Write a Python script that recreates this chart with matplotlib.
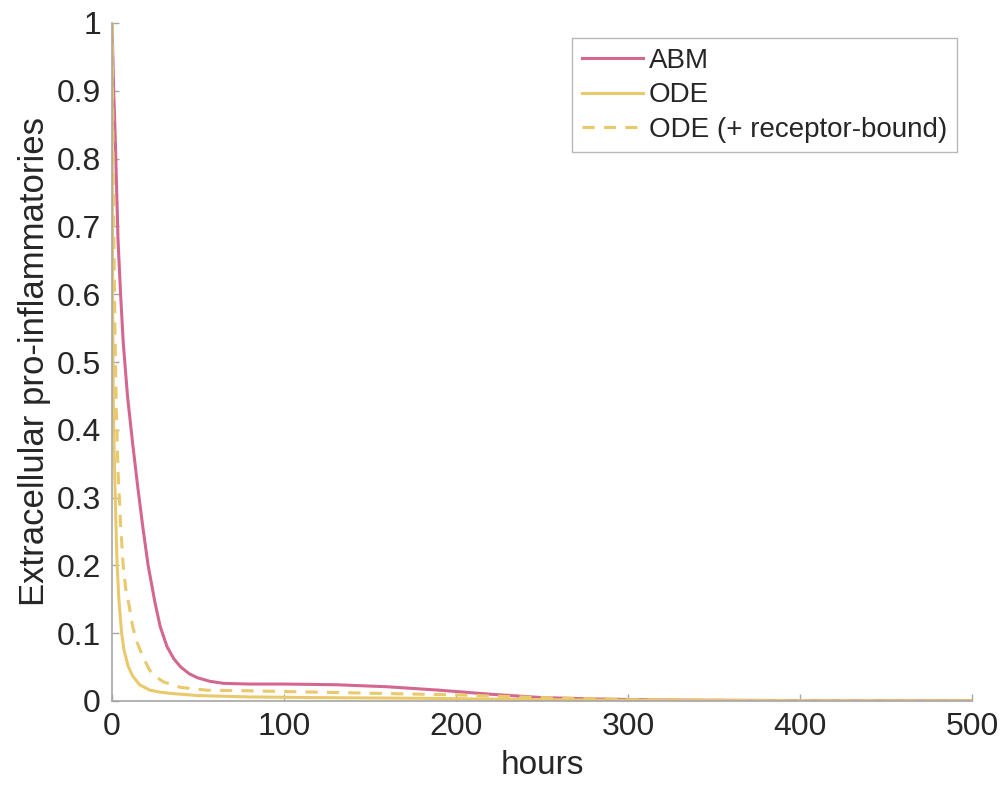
import numpy as np
import matplotlib
matplotlib.use("Agg")
import matplotlib.pyplot as plt

# values
abm_t = [0, 0.5, 1, 2, 3.5, 5, 6.5, 9, 12, 15, 18, 21, 25, 28, 32, 36, 40, 45, 50, 57,
         65, 80, 100, 130, 160, 190, 220, 250, 280, 320, 400, 500]
abm_y = [1.0, 0.95, 0.9, 0.82, 0.68, 0.6, 0.53, 0.45, 0.38, 0.315, 0.255, 0.2, 0.145, 0.11,
         0.08, 0.062, 0.05, 0.04, 0.034, 0.029, 0.026, 0.025, 0.025, 0.024, 0.021, 0.016,
         0.01, 0.005, 0.003, 0.0015, 0.0005, 0.0002]

ode_t = [0, 0.2, 0.4, 0.7, 1, 1.7, 2.5, 3, 4, 5.6, 7, 9.4, 12, 16, 22, 28, 35, 50, 80,
         120, 180, 250, 300, 400, 500]
ode_y = [1.0, 0.75, 0.58, 0.46, 0.4, 0.32, 0.24, 0.2, 0.15, 0.1, 0.075, 0.051, 0.037,
         0.024, 0.016, 0.013, 0.011, 0.008, 0.006, 0.005, 0.004, 0.002, 0.001, 0.0003, 0.0001]

odeb_t = [0, 0.5, 1, 1.7, 2.5, 3.5, 5, 6.5, 8, 10, 12, 14.5, 18, 22, 26, 30, 40, 55, 80,
          120, 160, 200, 250, 300, 400, 500]
odeb_y = [1.0, 0.85, 0.7, 0.55, 0.43, 0.34, 0.26, 0.2, 0.165, 0.14, 0.11, 0.087, 0.065,
          0.045, 0.035, 0.028, 0.02, 0.016, 0.015, 0.013, 0.011, 0.009, 0.005, 0.002,
          0.0005, 0.0002]

x_ticks = [0, 100, 200, 300, 400, 500]
y_ticks = [0, 0.1, 0.2, 0.3, 0.4, 0.5, 0.6, 0.7, 0.8, 0.9, 1]
y_labels = ["0", "0.1", "0.2", "0.3", "0.4", "0.5", "0.6", "0.7", "0.8", "0.9", "1"]

pink = "#D4678F"
yellow = "#EAC96C"

plt.rcParams["font.family"] = ["Liberation Sans", "DejaVu Sans"]

fig = plt.figure(figsize=(10.03, 7.95), dpi=100)
ax = fig.add_axes([112 / 1003, 1 - 701 / 795, (972 - 112) / 1003, (701 - 23) / 795])

ax.plot(abm_t, abm_y, color=pink, lw=2.2, label="ABM")
ax.plot(ode_t, ode_y, color=yellow, lw=2.2, label="ODE")
ax.plot(odeb_t, odeb_y, color=yellow, lw=2.2, ls=(0, (4, 3)), label="ODE (+ receptor-bound)")

ax.set_xlim(0, 500)
ax.set_ylim(0, 1)
ax.set_xticks(x_ticks)
ax.set_yticks(y_ticks)
ax.set_yticklabels(y_labels)

for s in ["top", "right"]:
    ax.spines[s].set_visible(False)
for s in ["left", "bottom"]:
    ax.spines[s].set_color("#A6A6A6")
    ax.spines[s].set_linewidth(1.2)
ax.tick_params(direction="in", length=5, width=1, color="#A6A6A6",
               labelsize=23, labelcolor="#262626", pad=8)

ax.set_xlabel("hours", fontsize=24, color="#262626", labelpad=6)
ax.set_ylabel("Extracellular pro-inflammatories", fontsize=25, color="#262626", labelpad=4)

leg = ax.legend(loc="upper right", fontsize=20, frameon=True, fancybox=False,
                handlelength=2.2, handletextpad=0.2, borderaxespad=0.55,
                labelspacing=0.3, borderpad=0.35)
leg.get_frame().set_edgecolor("#A6A6A6")
leg.get_frame().set_linewidth(1.0)
for t in leg.get_texts():
    t.set_color("#262626")

fig.savefig("out.png", dpi=100)
